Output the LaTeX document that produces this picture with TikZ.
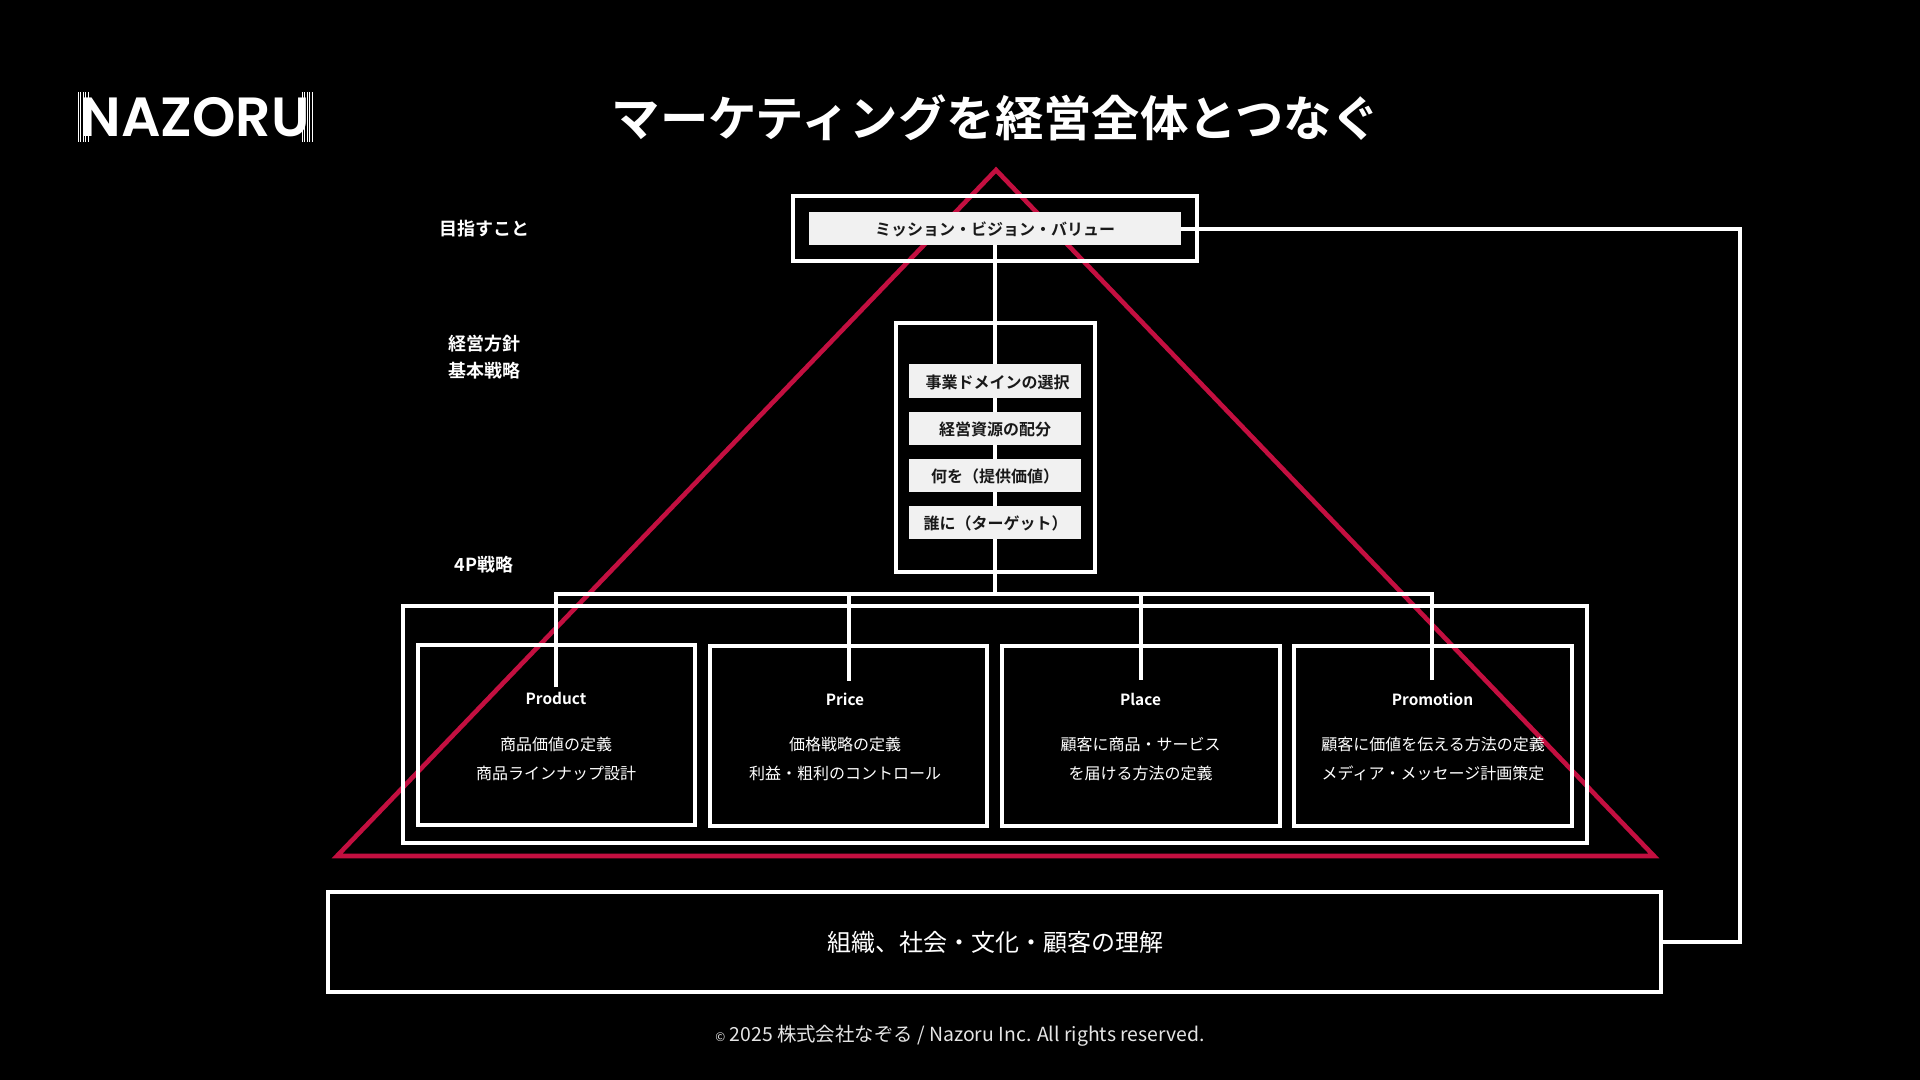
\documentclass[tikz,border=0pt]{standalone}
\usepackage{fontspec}
\setmainfont{Noto Sans CJK JP}
\newfontfamily\jpmed{Noto Sans CJK JP Medium}
\newfontfamily\jpbold{Noto Sans CJK JP Bold}
\newfontfamily\logofont{Poppins SemiBold}
\newcommand{\fs}[1]{\fontsize{#1}{#1}\selectfont}
\definecolor{tricol}{HTML}{C30F40}
\definecolor{barcol}{HTML}{F1F1F1}
\pgfdeclarelayer{bg}\pgfdeclarelayer{tri}\pgfdeclarelayer{conn}
\pgfsetlayers{bg,tri,conn,main}
\tikzset{
  frame/.style={draw=white,line width=2pt,inner sep=0pt,outer sep=0pt,rectangle},
  barbox/.style={fill=barcol,text=black,inner sep=0pt,outer sep=0pt,minimum width=86.15pt,minimum height=16.5pt},
  bartext/.style={text=black!90,inner sep=0pt,font=\jpbold\fs{8}},
  sidelabel/.style={text=white,inner sep=0pt,font=\jpbold\fs{9},align=center},
  headlabel/.style={text=white,inner sep=0pt,font=\jpbold\fs{7.7}},
  bodytext/.style={text=white,inner sep=0pt,font=\fs{8}},
  link/.style={draw=white,line width=2pt},
  stripe/.style={draw=white,line width=.5pt}
}
\begin{document}
\begin{tikzpicture}[x=.5pt,y=-.5pt]
\useasboundingbox (0,0) rectangle (1920,1080);
\begin{pgfonlayer}{bg}\fill[black] (0,0) rectangle (1920,1080);\end{pgfonlayer}
% logo
\node[text=white,inner sep=0pt,font=\logofont\fs{27.6}] (logo) at (195,117) {NAZORU};
\foreach \x in {78,80.5,83,85.5,88,302,304.5,307,309.5,312}{\draw[stripe] (\x,92) -- (\x,142);}
% title
\node[text=white,inner sep=0pt,font=\jpbold\fs{24.2}] (title) at (996,118) {マーケティングを経営全体とつなぐ};
% triangle
\coordinate (apex) at (996,170);
\coordinate (tl) at (337,856);
\coordinate (tr) at (1654,856);
\begin{pgfonlayer}{tri}
\draw[tricol,line width=2.3pt,line join=miter] (apex) -- (tr) -- (tl) -- cycle;
\end{pgfonlayer}
% frames
\node[frame,minimum width=202pt,minimum height=32.5pt] (topbox) at (995,228.5) {};
\node[barbox,minimum width=185.7pt] (mission) at (995,228.8) {};
\node[bartext] (missiontext) at (995,229) {ミッション・ビジョン・バリュー};
\node[frame,minimum width=99.65pt,minimum height=124.3pt] (midbox) at (995.3,447.6) {};
\node[barbox] (bar1) at (995,381) {};
\node[barbox] (bar2) at (995,428) {};
\node[barbox] (bar3) at (995,475) {};
\node[barbox] (bar4) at (995,522) {};
\node[bartext] (bt1) at (997.5,382.5) {事業ドメインの選択};
\node[bartext] (bt2) at (995,429.5) {経営資源の配分};
\node[bartext] (bt3) at (995,476) {何を（提供価値）};
\node[bartext] (bt4) at (995.5,523) {誰に（ターゲット）};
\node[frame,minimum width=592pt,minimum height=118.5pt] (fourp) at (995,724.5) {};
\node[frame,minimum width=138.6pt,minimum height=90.2pt] (b1) at (556.3,734.8) {};
\node[frame,minimum width=138.7pt,minimum height=90.2pt] (b2) at (848.2,735.8) {};
\node[frame,minimum width=139pt,minimum height=90.2pt] (b3) at (1140.6,735.8) {};
\node[frame,minimum width=139pt,minimum height=90.2pt] (b4) at (1433,735.8) {};
\node[frame,minimum width=666.75pt,minimum height=50pt] (base) at (994.7,941.7) {};
% side labels
\node[sidelabel] (l1) at (484,229) {目指すこと};
\node[sidelabel] (l2) at (484,344) {経営方針};
\node[sidelabel] (l3) at (484,371) {基本戦略};
\node[sidelabel] (l4) at (484,565) {4P戦略};
% box text
\node[headlabel] (h1) at (556,698) {Product};
\node[headlabel] (h2) at (845,699) {Price};
\node[headlabel] (h3) at (1140.5,699) {Place};
\node[headlabel] (h4) at (1432.5,699) {Promotion};
\node[bodytext] (t11) at (556,744) {商品価値の定義};
\node[bodytext] (t12) at (556,773) {商品ラインナップ設計};
\node[bodytext] (t21) at (845,744.5) {価格戦略の定義};
\node[bodytext] (t22) at (845,773.5) {利益・粗利のコントロール};
\node[bodytext] (t31) at (1140.5,744.5) {顧客に商品・サービス};
\node[bodytext] (t32) at (1140.5,773.5) {を届ける方法の定義};
\node[bodytext] (t41) at (1433,744.5) {顧客に価値を伝える方法の定義};
\node[bodytext] (t42) at (1433,773.5) {メディア・メッセージ計画策定};
\node[text=white,inner sep=0pt,font=\fs{12}] (basetext) at (995,942) {組織、社会・文化・顧客の理解};
\node[text=white!90!black,inner sep=0pt,font=\fs{9.7}] (foot) at (960,1035.5) {{\fs{6}©} 2025 株式会社なぞる / Nazoru Inc. All rights reserved.};
% connectors
\coordinate (bus) at (995,593.5);
\coordinate (d1) at (556,687);
\coordinate (d2) at (848.7,681);
\coordinate (d3) at (1140.6,680);
\coordinate (d4) at (1432.4,680);
\coordinate (rail) at (1740,600);
\begin{pgfonlayer}{conn}
\draw[link] (mission.south) -- (mission.south |- bus);
\draw[link] (d1) -- (d1 |- bus) -- (d4 |- bus) -- (d4);
\draw[link] (d2 |- bus) -- (d2);
\draw[link] (d3 |- bus) -- (d3);
\draw[link,line width=1.8pt] (base.east) -| (rail) |- (mission.east);
\end{pgfonlayer}
\end{tikzpicture}
\end{document}
